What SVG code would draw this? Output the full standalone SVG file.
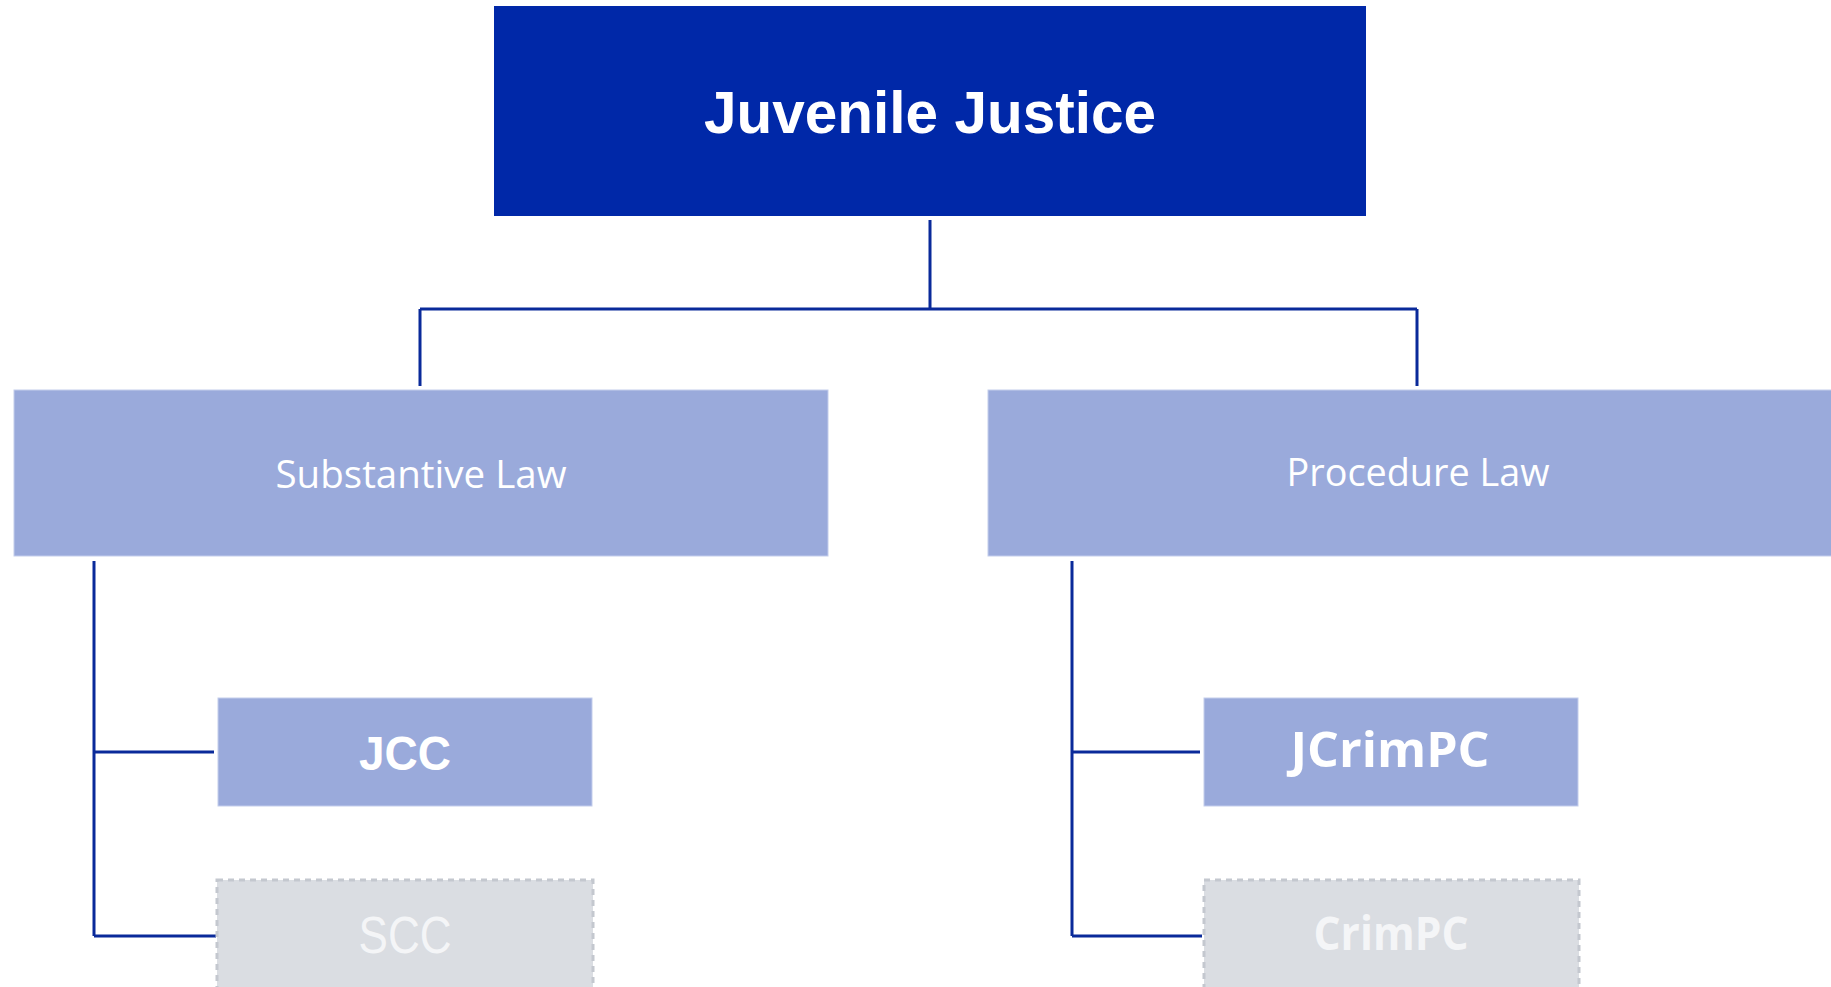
<svg xmlns="http://www.w3.org/2000/svg" width="1831" height="987" viewBox="0 0 1831 987">
<style>
.bg{fill:#ffffff}
.top{fill:#0028a8}
.mid{fill:#9aaadb;stroke:#c3cdec;stroke-width:1}
.ghost{fill:#dadde2;stroke:#c4c8cf;stroke-width:3;stroke-dasharray:6 5}
.conn{fill:none;stroke:#0a2a9a;stroke-width:3}
.arial{font-family:"Liberation Sans",Arial,sans-serif;fill:#ffffff;text-anchor:middle}
.src{font-family:"Open Sans","Noto Sans",sans-serif;fill:#ffffff;text-anchor:middle}
</style>
<rect class="bg" x="0" y="0" width="1831" height="987"/>
<g id="connectors">
<path class="conn" d="M930 220 V309 M420 309 H1417 M420 309 V386 M1417 309 V386"/>
<path class="conn" d="M94 561 V936 M94 752 H214 M94 936 H216"/>
<path class="conn" d="M1072 561 V936 M1072 752 H1200 M1072 936 H1202"/>
</g>
<g id="juvenile-justice">
<rect class="top" x="494" y="6" width="872" height="210"/>
<text class="arial" x="930" y="133" font-size="59" font-weight="bold" textLength="452" lengthAdjust="spacingAndGlyphs">Juvenile Justice</text>
</g>
<g id="substantive-law">
<rect class="mid" x="14" y="390" width="814" height="166"/>
<text class="src" x="421" y="488" font-size="39" textLength="291" lengthAdjust="spacingAndGlyphs">Substantive Law</text>
</g>
<g id="procedure-law">
<rect class="mid" x="988" y="390" width="850" height="166"/>
<text class="src" x="1418" y="486" font-size="39" textLength="263" lengthAdjust="spacingAndGlyphs">Procedure Law</text>
</g>
<g id="jcc">
<rect class="mid" x="218" y="698" width="374" height="108"/>
<text class="arial" x="405" y="770" font-size="48" font-weight="bold" textLength="92" lengthAdjust="spacingAndGlyphs">JCC</text>
</g>
<g id="scc">
<rect class="ghost" x="217" y="880" width="376" height="120"/>
<text class="arial" x="405" y="953" font-size="51" fill="#f4f5f7" style="fill:#f4f5f7" textLength="93" lengthAdjust="spacingAndGlyphs">SCC</text>
</g>
<g id="jcrimpc">
<rect class="mid" x="1204" y="698" width="374" height="108"/>
<text class="src" x="1390" y="767" font-size="48" font-weight="bold" textLength="199" lengthAdjust="spacingAndGlyphs">JCrimPC</text>
</g>
<g id="crimpc">
<rect class="ghost" x="1204" y="880" width="375" height="120"/>
<text class="src" x="1391" y="950" font-size="46" font-weight="bold" style="fill:#f4f5f7" textLength="155" lengthAdjust="spacingAndGlyphs">CrimPC</text>
</g>
</svg>
